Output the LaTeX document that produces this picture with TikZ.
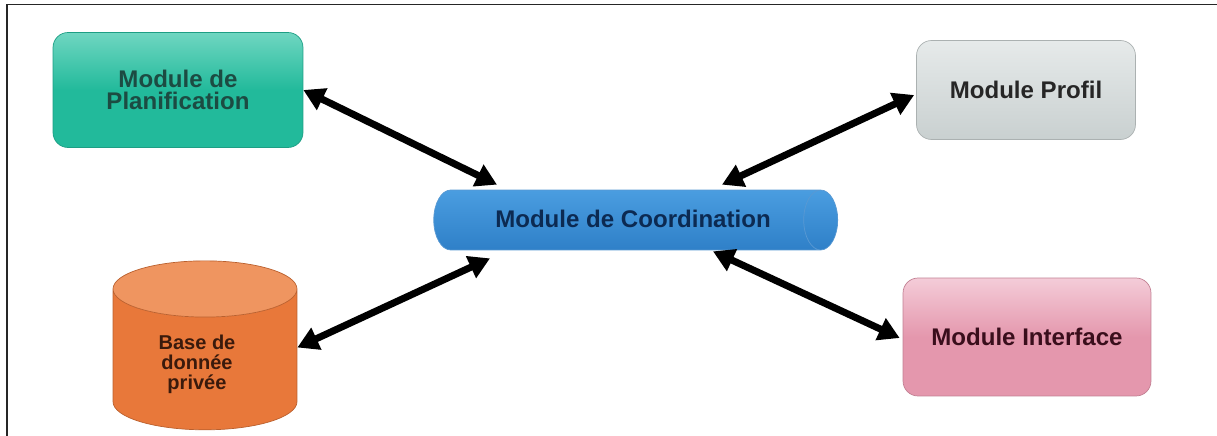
\documentclass[tikz,border=0pt]{standalone}
\usepackage{fontspec}
\setmainfont{Liberation Sans}
\usepackage{tikz}
\usetikzlibrary{arrows.meta,positioning,calc}
\usetikzlibrary{shapes.geometric}

\definecolor{planfill}{HTML}{22BA9B}
\definecolor{planlight}{HTML}{6FD6C1}
\definecolor{plantext}{HTML}{1C4B42}
\definecolor{proffill}{HTML}{C9D0D0}
\definecolor{proflight}{HTML}{E6EAEA}
\definecolor{iffill}{HTML}{E497AD}
\definecolor{iflight}{HTML}{F4CCD8}
\definecolor{iftext}{HTML}{3A0E1C}
\definecolor{basebody}{HTML}{E8783A}
\definecolor{basetop}{HTML}{EF9560}
\definecolor{basetext}{HTML}{3A1A0C}
\definecolor{coordfill}{HTML}{4A9DE0}
\definecolor{coordlight}{HTML}{8CC6F2}
\definecolor{coorddark}{HTML}{2F80C8}
\definecolor{coordtext}{HTML}{0C2A52}

\tikzset{
  modbox/.style = {rectangle, rounded corners=0.3cm, draw=#1!85!black, line width=0.4pt,
                   font=\bfseries\fontsize{13.7}{12.5}\selectfont, align=center},
  biarrow/.style = {line width=0.14cm, {Triangle[length=0.42cm,width=0.46cm]}-{Triangle[length=0.42cm,width=0.46cm]}},
  frame/.style = {line width=0.04cm, draw=black!85}
}

\begin{document}
\begin{tikzpicture}[x=0.02cm, y=-0.02cm]
        \useasboundingbox (0,0) rectangle (1217,436);
        \draw[frame] (7,436) -- (7,4.5) -- (1217,4.5);

        % les modules
        \node (plan) [modbox=planfill, top color=planlight, bottom color=planfill, middle color=planfill, text=plantext,
                      minimum width=5cm, minimum height=2.3cm] at (178,90) {Module de\\Planification};
        \node (prof) [modbox=proffill, top color=proflight, bottom color=proffill, text=black!85,
                      minimum width=4.38cm, minimum height=1.98cm] at (1026,90) {Module Profil};
        \node (iface) [modbox=iffill, top color=iflight, bottom color=iffill, middle color=iffill, text=iftext,
                       minimum width=4.96cm, minimum height=2.36cm] at (1027,337) {Module Interface};

        % le bus de coordination
        \node (coord) [cylinder, draw=coorddark!80, top color=coordfill, middle color=coordlight, bottom color=coorddark,
                       minimum height=8.08cm, minimum width=1.2cm, aspect=2.9] at (622,220) {};
        \node (coordt) [font=\bfseries\fontsize{13.7}{16}\selectfont, text=coordtext] at (633,219) {Module de Coordination};

        % la base
        \node (base) [cylinder, shape border rotate=90, draw=basebody!80!black, cylinder uses custom fill,
                      cylinder body fill=basebody, cylinder end fill=basetop,
                      minimum width=3.68cm, minimum height=3.38cm, aspect=4.8] at (205,364.5) {};
        \node (baset) [font=\bfseries\fontsize{11.4}{11.3}\selectfont, text=basetext, align=center] at (197,364) {Base de\\donnée\\privée};

        % les fleches
        \draw[biarrow] (plan.east) -- ($(coord.north)+(-125,-5)$);
        \draw[biarrow] ($(coord.north)+(100,-5)$) -- ($(prof.west)+(-2,5)$);
        \draw[biarrow] ($(base.east)+(0,-17)$) -- ($(coord.south)+(-132,8)$);
        \draw[biarrow] ($(coord.south)+(91,1)$) -- ($(iface.west)+(-3,1)$);
    \end{tikzpicture}
\end{document}
